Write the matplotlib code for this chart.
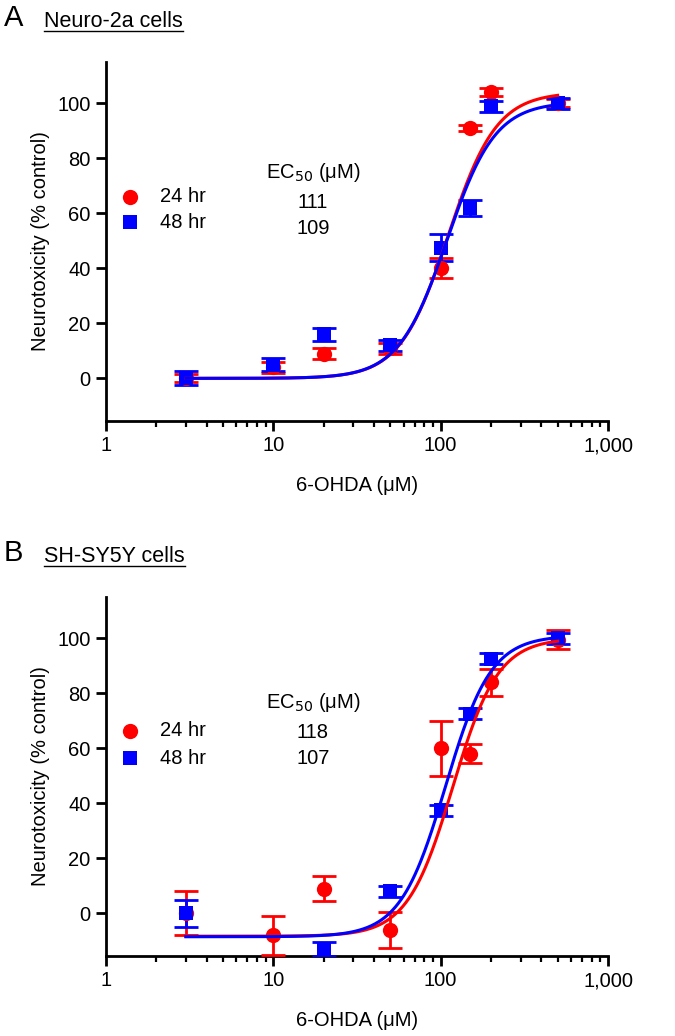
import numpy as np
import matplotlib
matplotlib.use("Agg")
import matplotlib.pyplot as plt
from matplotlib.ticker import FixedLocator, LogLocator, NullFormatter

plt.rcParams['font.family'] = ['Liberation Sans', 'DejaVu Sans']

# ---------------- data ----------------
conc = [3, 10, 20, 50, 100, 150, 200, 500]

# Panel A: Neuro-2a
a_24_mean = [0, 4, 9, 11, 40, 91, 104, 100]
a_24_err = [1.5, 2, 2, 2, 3.6, 1.2, 1.5, 1.5]
a_48_mean = [0, 5, 16, 12, 47.5, 62, 99, 100]
a_48_err = [2.5, 2.5, 2.4, 2, 5, 3, 2, 2]

# Panel B: SH-SY5Y
b_24_mean = [0, -8, 9, -6, 60, 58, 84, 99.5]
b_24_err = [8, 7, 4.5, 6.5, 10, 3.5, 5, 3.5]
b_48_mean = [0, np.nan, -13, 8, 37.5, 72.5, 92.5, 100]
b_48_err = [5, np.nan, 2.5, 2, 2, 2, 2, 2]

# fitted 4-parameter logistic parameters: bottom, top, EC50, hill
a_fit_24 = [0, 104, 111, 3.0]
a_fit_48 = [0, 100.5, 109, 3.0]
b_fit_24 = [-8.3, 100, 118, 3.2]
b_fit_48 = [-8.5, 101, 107, 3.2]

ec50_a = ["111", "109"]
ec50_b = ["118", "107"]
series_labels = ["24 hr", "48 hr"]
panel_letters = ["A", "B"]
panel_titles = ["Neuro-2a cells", "SH-SY5Y cells"]
yticks = [0, 20, 40, 60, 80, 100]
xticks = [1, 10, 100, 1000]
xtick_labels = ["1", "10", "100", "1,000"]

RED = "#ff0000"
BLUE = "#0000ff"
FS = 14.5

W, H = 675, 1036
fig = plt.figure(figsize=(W / 100, H / 100), dpi=100)


def logistic(x, p):
    bottom, top, ec50, h = p
    return bottom + (top - bottom) / (1 + (ec50 / x) ** h)


def px_ax(l, r, t, b):
    return [l / W, 1 - b / H, (r - l) / W, (b - t) / H]


def fx(x):
    return x / W


def fy(y):
    return 1 - y / H


def draw_panel(rect, m24, e24, m48, e48, f24, f48, ec50, letter, title,
               letter_y, title_y, leg_y, ec_y):
    ax = fig.add_axes(rect)
    ax.set_xscale('log')
    ax.set_xlim(1, 1000)
    ax.set_ylim(-15.5, 115)

    xs = np.logspace(np.log10(3), np.log10(500), 400)

    for m, e, f, col, mk, ms in [(m24, e24, f24, RED, 'o', 11),
                                 (m48, e48, f48, BLUE, 's', 10)]:
        ax.errorbar(conc, m, yerr=e, fmt='none', ecolor=col, elinewidth=2.0,
                    capsize=8.5, capthick=2.0, zorder=3)
        ax.plot(conc, m, linestyle='none', marker=mk, color=col, markersize=ms,
                markeredgewidth=0, zorder=4)
        ax.plot(xs, logistic(xs, f), color=col, lw=2.2, zorder=5)

    for s in ['top', 'right']:
        ax.spines[s].set_visible(False)
    for s in ['left', 'bottom']:
        ax.spines[s].set_linewidth(2.0)

    ax.yaxis.set_major_locator(FixedLocator(yticks))
    ax.xaxis.set_major_locator(FixedLocator(xticks))
    ax.set_xticklabels(xtick_labels)
    ax.xaxis.set_minor_locator(LogLocator(base=10, subs=np.arange(2, 10)))
    ax.xaxis.set_minor_formatter(NullFormatter())
    ax.tick_params(axis='both', which='major', direction='out', length=7,
                   width=2.0, labelsize=FS, pad=4)
    ax.tick_params(axis='x', which='minor', direction='out', length=4.5, width=1.6)

    ax.set_ylabel("Neurotoxicity (% control)", fontsize=FS, labelpad=5)
    ax.set_xlabel("6-OHDA (\u03bcM)", fontsize=FS, labelpad=15)

    fig.lines.append(plt.Line2D([fx(130)], [fy(leg_y[0])], marker='o', color=RED,
                                markersize=11, markeredgewidth=0, linestyle='none',
                                transform=fig.transFigure))
    fig.lines.append(plt.Line2D([fx(130)], [fy(leg_y[1])], marker='s', color=BLUE,
                                markersize=10, markeredgewidth=0, linestyle='none',
                                transform=fig.transFigure))
    for lab, yy in zip(series_labels, leg_y):
        fig.text(fx(160), fy(yy), lab, fontsize=FS, va='center', ha='left')
    fig.text(fx(313), fy(ec_y[0]), "EC$_{50}$ (\u03bcM)", fontsize=FS, va='center', ha='center')
    for v, yy in zip(ec50, ec_y[1:]):
        fig.text(fx(313), fy(yy), v, fontsize=FS, va='center', ha='center')

    fig.text(fx(4), fy(letter_y), letter, fontsize=21, va='center', ha='left')
    t = fig.text(fx(44), fy(title_y), title, fontsize=15.5, va='baseline', ha='left')
    fig.canvas.draw()
    bb = t.get_window_extent()
    fig.lines.append(plt.Line2D([bb.x0 / W, bb.x1 / W], [fy(title_y + 4)] * 2,
                                color='black', lw=1.0, transform=fig.transFigure))
    return ax


draw_panel(px_ax(106, 608, 62, 421), a_24_mean, a_24_err, a_48_mean, a_48_err,
           a_fit_24, a_fit_48, ec50_a, panel_letters[0], panel_titles[0], 18, 27,
           (197, 222), (172, 203, 229))
draw_panel(px_ax(106, 608, 597, 956), b_24_mean, b_24_err, b_48_mean, b_48_err,
           b_fit_24, b_fit_48, ec50_b, panel_letters[1], panel_titles[1], 553, 562,
           (731, 758), (703, 733, 759))

fig.savefig("out.png", dpi=100)
